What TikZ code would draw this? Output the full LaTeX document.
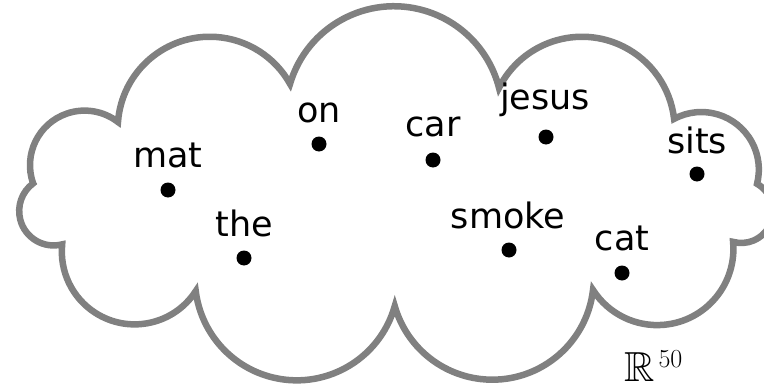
\documentclass[tikz,border=0pt]{standalone}
\usepackage{amssymb}
\usepackage[no-math]{fontspec}
\setmainfont{DejaVu Sans}
\newcommand{\bbR}{{\fontsize{42}{44}\usefont{U}{msb}{m}{n}R}}
\newcommand{\supfifty}{{\fontsize{26}{28}\fontfamily{lmr}\selectfont 50}}
\begin{document}
\begin{tikzpicture}[x=1pt,y=-1pt,
  cloudline/.style={draw=gray, line width=6.5pt, line join=miter, miter limit=6},
  dot/.style={circle, fill=black, inner sep=0pt, minimum size=15pt},
  word/.style={anchor=base, inner sep=0pt, font=\fontsize{35}{40}\selectfont}]
\useasboundingbox (0,0) rectangle (764,388);
\clip (0,0) rectangle (764,388);
% cloud outline
\draw[cloudline] ([shift={(84.6,165.2)}]161:54.6)
  arc[start angle=161, end angle=307.7, radius=54.6]
  arc[start angle=184.2, end angle=330.8, radius=92]
  arc[start angle=196.5, end angle=345.7, radius=108.4]
  arc[start angle=206.7, end angle=353.4, radius=92.8]
  arc[start angle=241.7, end angle=374.4, radius=57.5]
  arc[start angle=-60.3, end angle=105.2, radius=31.65]
  arc[start angle=-5.3, end angle=147.4, radius=76.2]
  arc[start angle=6.6, end angle=164.1, radius=101.4]
  arc[start angle=15.7, end angle=172.9, radius=101.8]
  arc[start angle=32.9, end angle=185.7, radius=72.8]
  arc[start angle=75.5, end angle=233.6, radius=34.4]
  -- cycle;
% points
\node[dot] (mat) at (168,190) {};
\node[dot] (the) at (244,258) {};
\node[dot] (on) at (319,144) {};
\node[dot] (car) at (433,160) {};
\node[dot] (jesus) at (546,137) {};
\node[dot] (sits) at (697,174) {};
\node[dot] (smoke) at (509,250) {};
\node[dot] (cat) at (622,273) {};
% labels
\node[word] (matlabel) at (168,167) {mat};
\node[word] (thelabel) at (244,236) {the};
\node[word] (onlabel) at (319,122) {on};
\node[word] (carlabel) at (433,136) {car};
\node[word] (jesuslabel) at (545,109) {jesus};
\node[word] (sitslabel) at (697,153) {sits};
\node[word] (smokelabel) at (508,228) {smoke};
\node[word] (catlabel) at (622,250) {cat};
% space label
\node[inner sep=0pt, anchor=base west] (rspace) at (624,381)
  {\bbR\kern4pt\raisebox{14pt}{\supfifty}};
\end{tikzpicture}
\end{document}
